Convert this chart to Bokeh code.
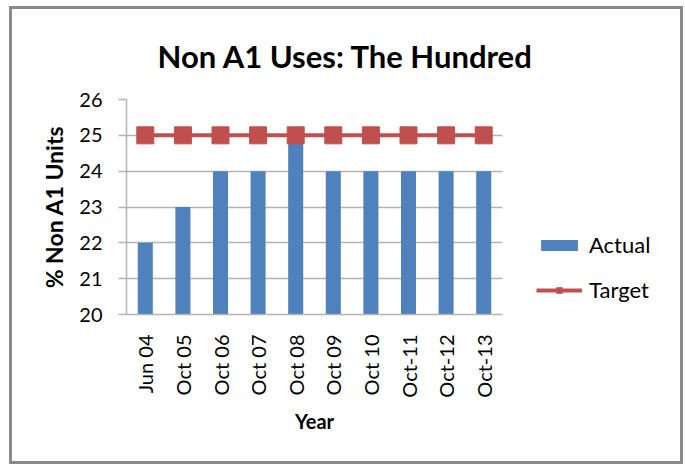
from bokeh.plotting import figure
from bokeh.models import (ColumnDataSource, FixedTicker, Legend, LegendItem, Title)
from bokeh.embed import file_html
from bokeh.resources import INLINE
from math import pi

categories = ["Jun 04", "Oct 05", "Oct 06", "Oct 07", "Oct 08", "Oct 09",
              "Oct 10", "Oct-11", "Oct-12", "Oct-13"]
actual = [22, 23, 24, 24, 25, 24, 24, 24, 24, 24]
target = [25, 25, 25, 25, 25, 25, 25, 25, 25, 25]
y_ticks = [20, 21, 22, 23, 24, 25, 26]

FONT = "Lato"
BLUE = "#4f81bd"
RED = "#c0504d"
GRID = "#b3b3b3"

src = ColumnDataSource(data=dict(cat=categories, actual=actual, target=target))

p = figure(x_range=categories, y_range=(20, 26), frame_width=376, frame_height=215,
           output_backend="svg", toolbar_location=None,
           min_border_left=114, min_border_right=174, min_border_top=90,
           min_border_bottom=146)
p.styles = {"border": "3px solid #8a8a8a", "margin-left": "9px", "margin-top": "6px",
            "box-sizing": "border-box", "width": "674px", "height": "458px",
            "overflow": "hidden"}

bars = p.vbar(x="cat", top="actual", bottom=20, width=0.4, source=src,
              fill_color=BLUE, line_color=None)
ln = p.line(x="cat", y="target", source=src, line_color=RED, line_width=4)
sq = p.scatter(x="cat", y="target", source=src, marker="square", size=17,
               fill_color=RED, line_color=RED)

p.title = None
t = Title(text="Non A1 Uses: The Hundred", align="left", offset=31,
          text_font=FONT, text_font_size="31px", text_font_style="bold",
          text_color="#000000", standoff=49)
p.add_layout(t, "above")

p.outline_line_color = None
p.xgrid.grid_line_color = None
p.ygrid.grid_line_color = GRID
p.ygrid.grid_line_width = 1.5
p.yaxis.ticker = FixedTicker(ticks=y_ticks)
p.yaxis.axis_line_color = GRID
p.yaxis.axis_line_width = 1.5
p.yaxis.major_tick_line_color = GRID
p.yaxis.major_tick_line_width = 1.5
p.yaxis.major_tick_out = 8
p.yaxis.major_tick_in = 0
p.yaxis.minor_tick_line_color = None
p.yaxis.major_label_text_font = FONT
p.yaxis.major_label_text_font_size = "20px"
p.yaxis.major_label_text_color = "#000000"
p.yaxis.major_label_standoff = 16
p.yaxis.axis_label = "% Non A1 Units"
p.yaxis.axis_label_text_font = FONT
p.yaxis.axis_label_text_font_size = "23px"
p.yaxis.axis_label_text_font_style = "bold"
p.yaxis.axis_label_text_color = "#000000"
p.yaxis.axis_label_standoff = 8

p.xaxis.axis_line_color = GRID
p.xaxis.axis_line_width = 1.5
p.xaxis.major_tick_line_color = None
p.xaxis.minor_tick_line_color = None
p.xaxis.major_label_orientation = pi / 2
p.xaxis.major_label_text_font = FONT
p.xaxis.major_label_text_font_size = "20px"
p.xaxis.major_label_text_color = "#000000"
p.xaxis.major_label_standoff = 14
p.xaxis.axis_label = "Year"
p.xaxis.axis_label_text_font = FONT
p.xaxis.axis_label_text_font_size = "20px"
p.xaxis.axis_label_text_font_style = "bold"
p.xaxis.axis_label_text_color = "#000000"
p.xaxis.axis_label_standoff = 8

legend = Legend(items=[LegendItem(label="Actual", renderers=[bars]),
                       LegendItem(label="Target", renderers=[ln, sq])],
                location=(34, 11), border_line_color=None, padding=0, margin=0,
                background_fill_alpha=0, glyph_width=46, glyph_height=14,
                label_height=14, spacing=18, label_text_font=FONT,
                label_text_font_size="22px", label_text_color="#000000",
                label_standoff=7)
p.add_layout(legend, "right")

open("out.html", "w").write(file_html(p, INLINE))
